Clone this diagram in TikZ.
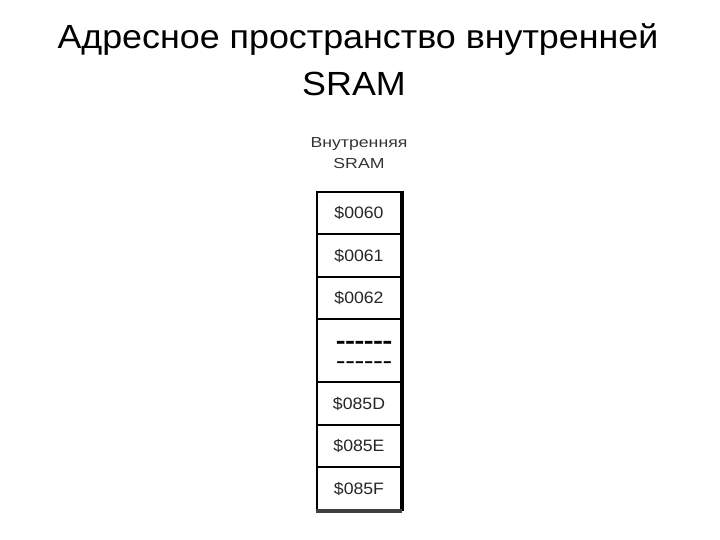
\documentclass[tikz,border=0pt]{standalone}
\usepackage{fontspec}
\setmainfont{Liberation Sans}
\newfontfamily\dashfont[Ligatures=TeXOff, FakeStretch=1.4]{Liberation Sans}
\begin{document}
\begin{tikzpicture}[x=1pt,y=-1pt,
  cell/.style={draw=black, line width=2pt, minimum width=84pt, inner sep=0pt,
    font=\fontsize{16.5}{18}\selectfont\addfontfeature{FakeStretch=1.07}, text=black!85},
  dashtext/.style={inner sep=0pt, anchor=base, font=\fontsize{20}{20}\dashfont\addfontfeature{FakeBold=1}},
]
\useasboundingbox (0,0) rectangle (720,540);
\node[anchor=base, font=\fontsize{33.5}{36}\selectfont\addfontfeature{FakeStretch=1.07}] (t1) at (358,48.5) {Адресное пространство внутренней};
\node[anchor=base, font=\fontsize{33.5}{36}\selectfont\addfontfeature{FakeStretch=1.07}] (t2) at (354,96) {SRAM};
\node[anchor=base, font=\fontsize{14.5}{16}\selectfont\addfontfeature{FakeStretch=1.22}, text=black!80] (lab1) at (359,148) {Внутренняя};
\node[anchor=base, font=\fontsize{14.5}{16}\selectfont\addfontfeature{FakeStretch=1.22}, text=black!80] (lab2) at (359,169) {SRAM};
\node[cell, minimum height=42pt] (c1) at (359,213) {\$0060};
\node[cell, minimum height=43pt] (c2) at (359,255.5) {\$0061};
\node[cell, minimum height=42pt] (c3) at (359,298) {\$0062};
\node[cell, minimum height=63pt] (c4) at (359,350.5) {};
\node[cell, minimum height=43pt] (c5) at (359,403.5) {\$085D};
\node[cell, minimum height=42pt] (c6) at (359,446) {\$085E};
\node[cell, minimum height=43pt] (c7) at (359,488.5) {\$085F};
\node[dashtext, font=\fontsize{20}{20}\dashfont\bfseries\addfontfeature{FakeBold=1.5}] (d1) at (364,347.5) {------};
\node[dashtext] (d2) at (364,367.5) {------};
\draw[line width=3.5pt] (c1.north east) -- (c7.south east);
\draw[line width=3.5pt, black!75] (c7.south west) -- (c7.south east);
\end{tikzpicture}
\end{document}
